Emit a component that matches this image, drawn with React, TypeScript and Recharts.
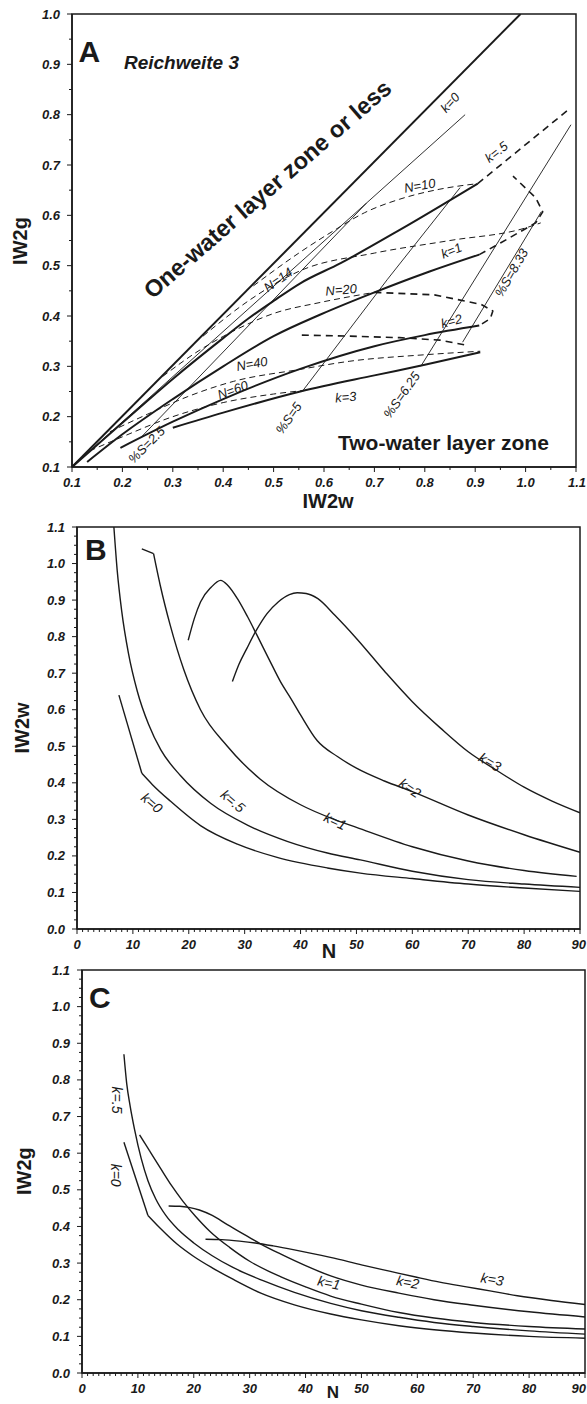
import React from 'react';
import { LineChart, Line, XAxis, YAxis, ReferenceArea, ReferenceDot } from 'recharts';

type P = [number, number];
const INK = '#1a1a1a';
const FONT = '"Liberation Sans", Arial, Helvetica, sans-serif';

// ---------------- Panel A (IW2w vs IW2g) ----------------
const aBoundary: P[] = [[0.1, 0.1], [0.99, 1.0]];
const aK0: P[] = [[0.1, 0.1], [0.88, 0.8]];
const aK05: P[] = [[0.1, 0.1], [0.2, 0.188], [0.3, 0.275], [0.4, 0.356], [0.45, 0.395], [0.5, 0.43], [0.553, 0.465], [0.633, 0.505], [0.752, 0.572], [0.905, 0.663]];
const aK05Dash: P[] = [[0.905, 0.663], [1.084, 0.809]];
const aK1: P[] = [[0.13, 0.11], [0.2, 0.165], [0.3, 0.235], [0.4, 0.3], [0.5, 0.36], [0.593, 0.403], [0.7, 0.447], [0.8, 0.485], [0.908, 0.522]];
const aK1Dash: P[] = [[0.908, 0.522], [0.95, 0.545], [0.985, 0.565], [1.02, 0.585], [1.034, 0.607], [1.02, 0.635], [0.975, 0.678]];
const aK2: P[] = [[0.196, 0.138], [0.3, 0.19], [0.4, 0.235], [0.553, 0.295], [0.7, 0.34], [0.8, 0.362], [0.908, 0.381]];
const aK2Dash: P[] = [[0.7, 0.447], [0.819, 0.442], [0.912, 0.423], [0.935, 0.41], [0.93, 0.395], [0.908, 0.381]];
const aK3: P[] = [[0.3, 0.178], [0.4, 0.208], [0.553, 0.25], [0.7, 0.282], [0.8, 0.303], [0.91, 0.328]];
const aK3Dash: P[] = [[0.556, 0.362], [0.65, 0.36], [0.75, 0.357], [0.83, 0.352], [0.878, 0.343]];
const aN10: P[] = [[0.46, 0.46], [0.55, 0.525], [0.62, 0.57], [0.68, 0.605], [0.75, 0.632], [0.83, 0.652], [0.905, 0.663]];
const aN14: P[] = [[0.36, 0.36], [0.45, 0.43], [0.553, 0.49], [0.7, 0.525], [0.85, 0.55], [1.0, 0.575], [1.03, 0.585]];
const aN20: P[] = [[0.28, 0.28], [0.35, 0.33], [0.42, 0.37], [0.5, 0.405], [0.593, 0.427], [0.7, 0.447]];
const aN40: P[] = [[0.175, 0.17], [0.25, 0.205], [0.33, 0.24], [0.42, 0.27], [0.553, 0.294], [0.65, 0.31], [0.8, 0.323], [0.91, 0.33]];
const aN60: P[] = [[0.135, 0.132], [0.2, 0.16], [0.3, 0.2], [0.4, 0.228], [0.5, 0.245], [0.57, 0.253]];
const aS25: P[] = [[0.238, 0.16], [0.684, 0.624]];
const aS5: P[] = [[0.559, 0.253], [0.726, 0.473], [0.87, 0.655]];
const aS625: P[] = [[0.792, 0.3], [1.09, 0.78]];
const aS833: P[] = [[0.875, 0.348], [1.031, 0.607]];

const aXMajor = [0.1, 0.2, 0.3, 0.4, 0.5, 0.6, 0.7, 0.8, 0.9, 1.0, 1.1];
const aXLabels = ['0.1', '0.2', '0.3', '0.4', '0.5', '0.6', '0.7', '0.8', '0.9', '1.0', '1.1'];
const aYMajor = [0.1, 0.2, 0.3, 0.4, 0.5, 0.6, 0.7, 0.8, 0.9, 1.0];
const aYLabels = ['0.1', '0.2', '0.3', '0.4', '0.5', '0.6', '0.7', '0.8', '0.9', '1.0'];

// ---------------- Panel B (N vs IW2w) ----------------
const bK0Head: P[] = [[7.5, 0.64], [11.6, 0.426]];
const bK0: P[] = [[11.6, 0.426], [13.5, 0.395], [16.7, 0.35], [22.1, 0.283], [28.7, 0.232], [35.8, 0.196], [44.8, 0.167], [50.7, 0.153], [60, 0.138], [70, 0.123], [80, 0.112], [90, 0.103]];
const bK05: P[] = [[6.6, 1.1], [7.2, 0.98], [8.0, 0.87], [9.2, 0.755], [10.8, 0.65], [12.8, 0.56], [15, 0.49], [18.5, 0.42], [23.9, 0.344], [30.4, 0.285], [37.6, 0.24], [44.8, 0.208], [50.7, 0.189], [60, 0.158], [70, 0.135], [80, 0.123], [90, 0.114]];
const bK1Head: P[] = [[11.6, 1.04], [13.7, 1.027]];
const bK1: P[] = [[13.7, 1.027], [14.9, 0.94], [16.7, 0.83], [19.1, 0.71], [22.1, 0.6], [26.9, 0.5], [32.8, 0.41], [40, 0.34], [46, 0.3], [50, 0.278], [60, 0.225], [70, 0.186], [80, 0.16], [89.4, 0.144]];
const bK2: P[] = [[19.9, 0.79], [21, 0.85], [22.1, 0.895], [24, 0.935], [25.7, 0.954], [27, 0.94], [28.7, 0.904], [30.5, 0.855], [32.2, 0.804], [34.3, 0.74], [36.4, 0.677], [38.3, 0.63], [40, 0.586], [43, 0.515], [46.6, 0.472], [50, 0.44], [55, 0.405], [60, 0.376], [70, 0.312], [80, 0.258], [90, 0.21]];
const bK3: P[] = [[27.8, 0.677], [29, 0.725], [30.4, 0.768], [32, 0.815], [34, 0.863], [36, 0.895], [38, 0.915], [39.4, 0.92], [41, 0.918], [43.1, 0.904], [46.1, 0.859], [50, 0.795], [55.1, 0.704], [60, 0.622], [65.1, 0.549], [70, 0.485], [75, 0.435], [80, 0.388], [85, 0.35], [90, 0.318]];

// ---------------- Panel C (N vs IW2g) ----------------
const cK0Head: P[] = [[7.5, 0.63], [11.8, 0.43]];
const cK0: P[] = [[11.8, 0.43], [14, 0.395], [17, 0.352], [20, 0.318], [23.3, 0.287], [27, 0.256], [32, 0.218], [38, 0.186], [44.5, 0.161], [50, 0.145], [56.7, 0.129], [63, 0.118], [70, 0.109], [80, 0.1], [90, 0.095]];
const cK05: P[] = [[7.5, 0.87], [8.0, 0.79], [8.6, 0.73], [9.4, 0.665], [10.6, 0.585], [11.8, 0.525], [13.2, 0.475], [15, 0.43], [17.3, 0.39], [20, 0.355], [23.3, 0.32], [27, 0.288], [32.4, 0.252], [38, 0.22], [44.5, 0.19], [50, 0.17], [56.7, 0.152], [63, 0.138], [70, 0.127], [80, 0.115], [90, 0.106]];
const cK1Head: P[] = [[10.3, 0.65], [12.1, 0.606]];
const cK1: P[] = [[12.1, 0.606], [14, 0.56], [16.1, 0.51], [18, 0.47], [20.3, 0.428], [23, 0.385], [26.4, 0.343], [30, 0.305], [35.5, 0.263], [40, 0.235], [44.5, 0.21], [50, 0.188], [56.7, 0.165], [63, 0.15], [70, 0.138], [80, 0.127], [90, 0.12]];
const cK2: P[] = [[15.5, 0.456], [17.5, 0.455], [19.1, 0.452], [21, 0.445], [23.3, 0.43], [26, 0.405], [29.4, 0.375], [32, 0.352], [35.5, 0.325], [40, 0.293], [44.5, 0.265], [50, 0.24], [56.7, 0.218], [63, 0.2], [70, 0.185], [80, 0.167], [90, 0.153]];
const cK3: P[] = [[22.1, 0.365], [25, 0.364], [28.2, 0.36], [31, 0.355], [34.2, 0.347], [38, 0.336], [41.5, 0.325], [46, 0.31], [50.6, 0.293], [55, 0.278], [59.7, 0.262], [64, 0.248], [68.8, 0.235], [73, 0.224], [77.9, 0.211], [84, 0.198], [90, 0.187]];

const nMajor = [0, 10, 20, 30, 40, 50, 60, 70, 80, 90];
const nLabels = ['0', '10', '20', '30', '40', '50', '60', '70', '80', '90'];
const bcYMajor = [0, 0.1, 0.2, 0.3, 0.4, 0.5, 0.6, 0.7, 0.8, 0.9, 1.0, 1.1];
const bcYLabels = ['0.0', '0.1', '0.2', '0.3', '0.4', '0.5', '0.6', '0.7', '0.8', '0.9', '1.0', '1.1'];

// ---------------- helpers ----------------
const PAGE_W = 587;
const TICK_FS = 13;
const toData = (pts: P[]) => pts.map(([x, y]) => ({ x, y }));
const near = (a: number, b: number) => Math.abs(a - b) < 1e-6;
const minorBetween = (major: number[], parts: number) => {
  const out: number[] = [];
  for (let i = 0; i < major.length - 1; i++) {
    for (let j = 1; j < parts; j++) out.push(+(major[i] + ((major[i + 1] - major[i]) * j) / parts).toFixed(4));
  }
  return out;
};

type Series = { pts: P[]; w: number; dash?: string; curve?: 'linear' | 'monotoneX' };
type Lbl = { t: string; x: number; y: number; size: number; rot?: number; bold?: boolean; italic?: boolean; anchor?: 'start' | 'middle' | 'end'; central?: boolean };

const makeXTick = (major: number[], labels: string[]) => (props: any) => {
  const { x, y, payload } = props;
  const i = major.findIndex((m) => near(m, payload.value));
  const isMajor = i >= 0;
  let tx = x;
  let anchor: 'middle' | 'end' = 'middle';
  if (isMajor) {
    const half = (labels[i].length * TICK_FS * 0.56) / 2;
    if (x + half > PAGE_W - 1) {
      tx = PAGE_W - 1;
      anchor = 'end';
    }
  }
  return (
    <g>
      <line x1={x} y1={y} x2={x} y2={y + (isMajor ? 5 : 3)} stroke={INK} strokeWidth={1} />
      {isMajor && (
        <text x={tx} y={y + 20} textAnchor={anchor} fontSize={TICK_FS} fontWeight="bold" fontStyle="italic" fontFamily={FONT} fill={INK}>
          {labels[i]}
        </text>
      )}
    </g>
  );
};

const makeYTick = (major: number[], labels: string[]) => (props: any) => {
  const { x, y, payload } = props;
  const i = major.findIndex((m) => near(m, payload.value));
  const isMajor = i >= 0;
  return (
    <g>
      <line x1={x} y1={y} x2={x - (isMajor ? 5 : 3)} y2={y} stroke={INK} strokeWidth={1} />
      {isMajor && (
        <text x={x - 12} y={y} textAnchor="end" dominantBaseline="central" fontSize={TICK_FS} fontWeight="bold" fontStyle="italic" fontFamily={FONT} fill={INK}>
          {labels[i]}
        </text>
      )}
    </g>
  );
};

const TextShape = (l: Lbl) => (p: any) => {
  const cx = p.cx;
  const cy = p.cy;
  return (
    <text
      x={cx}
      y={cy}
      transform={l.rot ? `rotate(${l.rot} ${cx} ${cy})` : undefined}
      textAnchor={l.anchor || 'middle'}
      dominantBaseline={l.central ? 'central' : 'alphabetic'}
      fontSize={l.size}
      fontWeight={l.bold ? 'bold' : 'normal'}
      fontStyle={l.italic ? 'italic' : 'normal'}
      fontFamily={FONT}
      fill={INK}
    >
      {l.t}
    </text>
  );
};

type PanelProps = {
  top: number;
  width: number;
  height: number;
  margin: { top: number; right: number; bottom: number; left: number };
  xDomain: [number, number];
  yDomain: [number, number];
  xMajor: number[];
  xLabels: string[];
  xMinorParts: number;
  yMajor: number[];
  yLabels: string[];
  yMinorParts: number;
  series: Series[];
  labels: Lbl[];
};

function Panel(pp: PanelProps) {
  const xTicks = [...pp.xMajor, ...minorBetween(pp.xMajor, pp.xMinorParts)].sort((a, b) => a - b);
  const yTicks = [...pp.yMajor, ...minorBetween(pp.yMajor, pp.yMinorParts)].sort((a, b) => a - b);
  const m = { ...pp.margin, left: pp.margin.left - 1, bottom: pp.margin.bottom - 1 };
  return (
    <div style={{ position: 'absolute', left: 0, top: pp.top, width: pp.width, height: pp.height }}>
      <LineChart width={pp.width} height={pp.height} margin={m} style={{ overflow: 'visible' }}>
        <XAxis
          type="number"
          dataKey="x"
          domain={pp.xDomain}
          allowDataOverflow
          ticks={xTicks}
          interval={0}
          height={1}
          tickSize={0}
          tickMargin={0}
          tickLine={false}
          axisLine={{ stroke: INK, strokeWidth: 1.5 }}
          tick={makeXTick(pp.xMajor, pp.xLabels)}
        />
        <YAxis
          type="number"
          dataKey="y"
          domain={pp.yDomain}
          allowDataOverflow
          ticks={yTicks}
          interval={0}
          width={1}
          tickSize={0}
          tickMargin={0}
          tickLine={false}
          axisLine={{ stroke: INK, strokeWidth: 1.5 }}
          tick={makeYTick(pp.yMajor, pp.yLabels)}
        />
        <ReferenceArea x1={pp.xDomain[0]} x2={pp.xDomain[1]} y1={pp.yDomain[0]} y2={pp.yDomain[1]} fill="none" fillOpacity={0} stroke={INK} strokeWidth={1.5} />
        {pp.series.map((s, i) => (
          <Line
            key={i}
            data={toData(s.pts)}
            dataKey="y"
            type={s.curve || 'linear'}
            stroke={INK}
            strokeWidth={s.w}
            strokeDasharray={s.dash}
            strokeLinejoin="round"
            dot={false}
            activeDot={false}
            isAnimationActive={false}
          />
        ))}
        {pp.labels.map((l, i) => (
          <ReferenceDot key={'l' + i} x={l.x} y={l.y} r={0} ifOverflow="visible" shape={TextShape(l)} />
        ))}
      </LineChart>
    </div>
  );
}

const THICK = 2;
const THIN = 0.9;
const seriesA: Series[] = [
  { pts: aBoundary, w: THICK },
  { pts: aK0, w: THIN },
  { pts: aK05, w: THICK, curve: 'monotoneX' },
  { pts: aK05Dash, w: 1.6, dash: '7 5' },
  { pts: aK1, w: THICK, curve: 'monotoneX' },
  { pts: aK1Dash, w: 1.6, dash: '7 5' },
  { pts: aK2, w: THICK, curve: 'monotoneX' },
  { pts: aK2Dash, w: 1.6, dash: '7 5' },
  { pts: aK3, w: THICK, curve: 'monotoneX' },
  { pts: aK3Dash, w: 1.6, dash: '7 5' },
  { pts: aN10, w: 1, dash: '6 4', curve: 'monotoneX' },
  { pts: aN14, w: 1, dash: '6 4', curve: 'monotoneX' },
  { pts: aN20, w: 1, dash: '6 4', curve: 'monotoneX' },
  { pts: aN40, w: 1, dash: '6 4', curve: 'monotoneX' },
  { pts: aN60, w: 1, dash: '6 4', curve: 'monotoneX' },
  { pts: aS25, w: THIN },
  { pts: aS5, w: THIN },
  { pts: aS625, w: THIN },
  { pts: aS833, w: THIN },
];

const smallA = (t: string, x: number, y: number, rot: number): Lbl => ({ t, x, y, rot, size: 13, italic: true, central: true });
const labelsA: Lbl[] = [
  { t: 'A', x: 0.113, y: 0.905, size: 30, bold: true, anchor: 'start' },
  { t: 'Reichweite 3', x: 0.203, y: 0.89, size: 19, bold: true, italic: true, anchor: 'start' },
  { t: 'One-water layer zone or less', x: 0.488, y: 0.652, size: 23.5, bold: true, rot: -41, central: true },
  { t: 'Two-water layer zone', x: 0.837, y: 0.148, size: 21, bold: true, central: true },
  smallA('k=0', 0.85, 0.824, -48),
  smallA('k=.5', 0.942, 0.726, -38),
  smallA('N=10', 0.79, 0.659, -10),
  smallA('k=1', 0.853, 0.53, -22),
  smallA('N=20', 0.634, 0.452, -5),
  smallA('%S=8.33', 0.972, 0.486, -60),
  smallA('N=14', 0.509, 0.472, -35),
  smallA('N=40', 0.457, 0.305, -10),
  smallA('N=60', 0.419, 0.253, -20),
  smallA('%S=2.5', 0.248, 0.144, -45),
  smallA('%S=5', 0.53, 0.197, -55),
  smallA('k=2', 0.853, 0.39, -15),
  smallA('k=3', 0.643, 0.239, -5),
  smallA('%S=6.25', 0.754, 0.243, -55),
  { t: 'IW2w', x: 0.608, y: 0.0185, size: 20, bold: true },
  { t: 'IW2g', x: -0.003, y: 0.549, size: 20, bold: true, rot: -90, central: true },
];

const BCW = 1.4;
const seriesB: Series[] = [
  { pts: bK0Head, w: BCW },
  { pts: bK0, w: BCW, curve: 'monotoneX' },
  { pts: bK05, w: BCW, curve: 'monotoneX' },
  { pts: bK1Head, w: BCW },
  { pts: bK1, w: BCW, curve: 'monotoneX' },
  { pts: bK2, w: BCW, curve: 'monotoneX' },
  { pts: bK3, w: BCW, curve: 'monotoneX' },
];
const seriesC: Series[] = [
  { pts: cK0Head, w: BCW },
  { pts: cK0, w: BCW, curve: 'monotoneX' },
  { pts: cK05, w: BCW, curve: 'monotoneX' },
  { pts: cK1Head, w: BCW },
  { pts: cK1, w: BCW, curve: 'monotoneX' },
  { pts: cK2, w: BCW, curve: 'monotoneX' },
  { pts: cK3, w: BCW, curve: 'monotoneX' },
];

const smallBC = (t: string, x: number, y: number, rot: number): Lbl => ({ t, x, y, rot, size: 14, italic: true, central: true });
const labelsB: Lbl[] = [
  { t: 'B', x: 1.43, y: 1.01, size: 30, bold: true, anchor: 'start' },
  smallBC('k=0', 13.4, 0.345, 40),
  smallBC('k=.5', 27.9, 0.35, 40),
  smallBC('k=1', 46.2, 0.295, 25),
  smallBC('k=2', 59.6, 0.386, 35),
  smallBC('k=3', 73.9, 0.457, 30),
  { t: 'N', x: 45.1, y: -0.079, size: 20, bold: true },
  { t: 'IW2w', x: -9.84, y: 0.55, size: 20, bold: true, rot: -90, central: true },
];
const labelsC: Lbl[] = [
  { t: 'C', x: 1.25, y: 0.996, size: 30, bold: true, anchor: 'start' },
  smallBC('k=.5', 6.26, 0.745, 90),
  smallBC('k=0', 6.1, 0.54, 90),
  smallBC('k=1', 44.2, 0.246, 12),
  smallBC('k=2', 58.3, 0.248, 10),
  smallBC('k=3', 73.4, 0.256, 10),
  { t: 'N', x: 44.9, y: -0.068, size: 17, bold: true },
  { t: 'IW2g', x: -10.4, y: 0.551, size: 20, bold: true, rot: -90, central: true },
];

export default function App() {
  return (
    <div style={{ position: 'absolute', left: 0, top: 0, width: 587, height: 1404, background: '#fff', overflow: 'hidden' }}>
      <Panel
        top={0}
        width={587}
        height={520}
        margin={{ top: 14, right: 11, bottom: 53, left: 72 }}
        xDomain={[0.1, 1.1]}
        yDomain={[0.1, 1.0]}
        xMajor={aXMajor}
        xLabels={aXLabels}
        xMinorParts={2}
        yMajor={aYMajor}
        yLabels={aYLabels}
        yMinorParts={2}
        series={seriesA}
        labels={labelsA}
      />
      <Panel
        top={500}
        width={587}
        height={470}
        margin={{ top: 27, right: 7, bottom: 41, left: 77 }}
        xDomain={[0, 90]}
        yDomain={[0, 1.1]}
        xMajor={nMajor}
        xLabels={nLabels}
        xMinorParts={10}
        yMajor={bcYMajor}
        yLabels={bcYLabels}
        yMinorParts={4}
        series={seriesB}
        labels={labelsB}
      />
      <Panel
        top={950}
        width={587}
        height={454}
        margin={{ top: 20, right: 2, bottom: 31, left: 82 }}
        xDomain={[0, 90]}
        yDomain={[0, 1.1]}
        xMajor={nMajor}
        xLabels={nLabels}
        xMinorParts={10}
        yMajor={bcYMajor}
        yLabels={bcYLabels}
        yMinorParts={4}
        series={seriesC}
        labels={labelsC}
      />
    </div>
  );
}
